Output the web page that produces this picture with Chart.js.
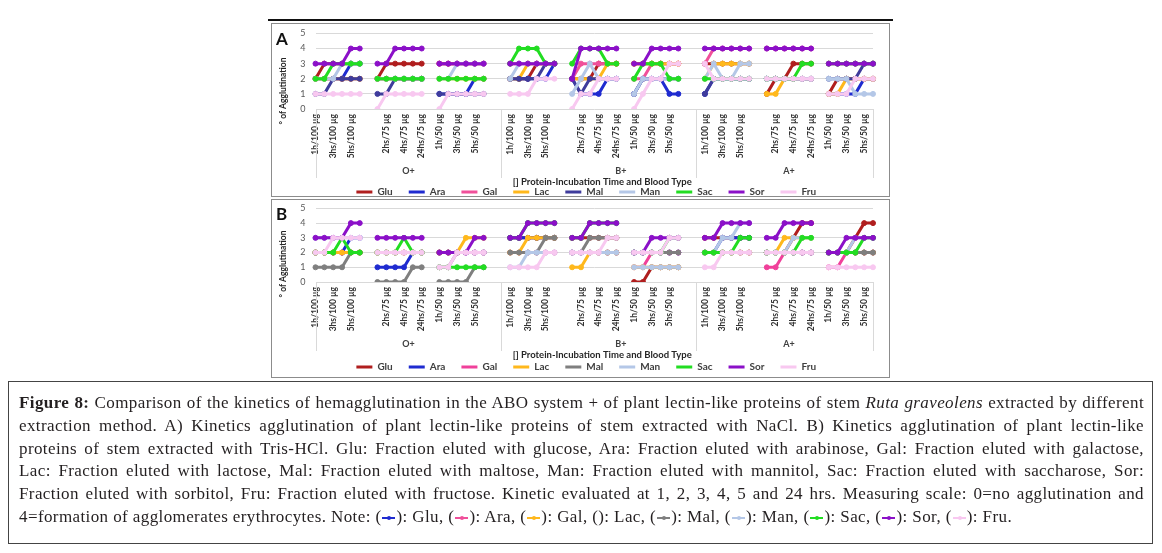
<!DOCTYPE html>
<html>
<head>
<meta charset="utf-8">
<script src="https://cdn.jsdelivr.net/npm/chart.js@4.4.0/dist/chart.umd.min.js"></script>
<style>
  body { margin: 0; background: #fff; width: 1162px; height: 553px; position: relative; overflow: hidden; font-family: Lato, sans-serif; }
  #topline { position: absolute; left: 268px; top: 19px; width: 625px; height: 2px; background: #111; }
  .panel { position: absolute; left: 271px; width: 619px; border: 1px solid #8c8c8c; box-sizing: border-box; }
  #pa { top: 23px; height: 174px; }
  #pb { top: 199px; height: 179px; }
  .wrap { position: absolute; left: 272px; width: 617px; height: 189px; }
  #wa { top: 17.6px; }
  #wb { top: 192.6px; }
  .letter { position: absolute; left: 276px; font: bold 17px Lato, sans-serif; color: #111; }
  #cap { position: absolute; left: 8px; top: 381px; width: 1145px; height: 163px; border: 1px solid #444; box-sizing: border-box;
         padding: 10px 8px 0 10px; font-family: "Liberation Serif", serif; font-size: 17px; letter-spacing: 0.4px; color: #231f20; }
  .ln { height: 22.8px; line-height: 22.8px; text-align: justify; text-align-last: justify; white-space: nowrap; }
  .ln.last { text-align-last: left; }
  .mk { display: inline-block; width: 13px; height: 2px; vertical-align: middle; position: relative; margin: 0 1px; }
  .mk::after { content: ''; position: absolute; left: 5px; top: -1.5px; width: 4px; height: 4px; border-radius: 50%; background: inherit; }
</style>
</head>
<body>
<div id="topline"></div>
<div class="panel" id="pa"></div>
<div class="panel" id="pb"></div>
<div class="wrap" id="wa"><canvas id="chartA"></canvas></div>
<div class="wrap" id="wb"><canvas id="chartB"></canvas></div>
<div class="letter" style="top:28px">A</div>
<div class="letter" style="top:203px">B</div>

<div id="cap">
  <div class="ln"><b>Figure 8:</b> Comparison of the kinetics of hemagglutination in the ABO system + of plant lectin-like proteins of stem <i>Ruta graveolens</i> extracted by different</div>
  <div class="ln">extraction method. A) Kinetics agglutination of plant lectin-like proteins of stem extracted with NaCl. B) Kinetics agglutination of plant lectin-like</div>
  <div class="ln">proteins of stem extracted with Tris-HCl. Glu: Fraction eluted with glucose, Ara: Fraction eluted with arabinose, Gal: Fraction eluted with galactose,</div>
  <div class="ln">Lac: Fraction eluted with lactose, Mal: Fraction eluted with maltose, Man: Fraction eluted with mannitol, Sac: Fraction eluted with saccharose, Sor:</div>
  <div class="ln">Fraction eluted with sorbitol, Fru: Fraction eluted with fructose. Kinetic evaluated at 1, 2, 3, 4, 5 and 24 hrs. Measuring scale: 0=no agglutination and</div>
  <div class="ln last">4=formation of agglomerates erythrocytes. Note: (<span class="mk" style="background:#1f2bd0"></span>): Glu, (<span class="mk" style="background:#f0509a"></span>): Ara, (<span class="mk" style="background:#ffb81c"></span>): Gal, (): Lac, (<span class="mk" style="background:#7f7f7f"></span>): Mal, (<span class="mk" style="background:#b4c7e7"></span>): Man, (<span class="mk" style="background:#22dd22"></span>): Sac, (<span class="mk" style="background:#8b10c8"></span>): Sor, (<span class="mk" style="background:#f8c8f0"></span>): Fru.</div>
</div>

<script>
// categories
const times = ['1h', '2hs', '3hs', '4hs', '5hs', '24hs'];
const doses = ['100 µg', '75 µg', '50 µg'];
const bloodTypes = ['O+', 'B+', 'A+'];
const seriesNames = ['Glu', 'Ara', 'Gal', 'Lac', 'Mal', 'Man', 'Sac', 'Sor', 'Fru'];

// A) NaCl extract -- 6 values per group: O+100, O+75, O+50, B+100, B+75, B+50, A+100, A+75, A+50
const aGlu = [2,3,3,3,3,3, 2,3,3,3,3,3, 3,3,3,3,3,3, 2,2,2,3,3,3, 2,2,2,3,3,3, 3,3,3,3,3,3, 3,3,3,3,3,3, 1,2,2,3,3,3, 1,2,2,2,2,2];
const aAra = [2,2,2,2,3,3, 2,2,2,2,2,2, 1,1,1,1,2,2, 2,2,2,2,2,3, 2,1,1,1,2,2, 1,2,2,2,1,1, 1,2,2,2,2,2, 2,2,2,2,2,2, 1,1,1,1,2,2];
const aGal = [2,2,2,2,2,2, 2,2,2,2,2,2, 3,3,3,3,3,3, 3,3,3,3,3,3, 2,3,3,3,3,3, 2,2,3,3,3,3, 3,4,4,4,4,4, 4,4,4,4,4,4, 3,3,3,3,3,3];
const aLac = [2,2,2,2,2,2, 2,2,2,2,2,2, 2,2,2,2,2,2, 2,2,3,3,3,3, 2,2,2,2,3,3, 3,3,3,3,3,3, 2,3,3,3,3,3, 1,1,2,2,2,2, 1,1,2,2,2,2];
const aMal = [1,1,2,2,2,2, 1,1,2,2,2,2, 1,1,1,1,1,1, 2,2,2,2,3,3, 2,1,2,2,2,2, 1,2,2,2,2,2, 1,2,2,2,2,2, 2,2,2,2,2,2, 2,2,2,2,3,3];
const aMan = [2,2,2,3,3,3, 2,2,2,2,2,2, 2,2,3,3,3,3, 2,3,3,3,3,3, 1,2,3,2,2,2, 1,2,2,2,2,2, 2,3,2,2,3,3, 2,2,2,2,2,2, 2,2,2,1,1,1];
const aSac = [2,2,3,3,3,3, 2,2,2,2,2,2, 2,2,2,2,2,2, 3,4,4,4,3,3, 3,4,4,4,3,3, 2,3,3,3,2,2, 2,2,2,2,2,2, 2,2,2,2,3,3, 3,3,3,3,3,3];
const aSor = [3,3,3,3,4,4, 3,3,4,4,4,4, 3,3,3,3,3,3, 3,3,3,3,3,3, 2,4,4,4,4,4, 3,3,4,4,4,4, 4,4,4,4,4,4, 4,4,4,4,4,4, 3,3,3,3,3,3];
const aFru = [1,1,1,1,1,1, 0,1,1,1,1,1, 0,1,1,1,1,1, 1,1,1,2,2,2, 0,1,1,2,2,2, 0,1,2,2,3,3, 3,2,2,2,2,2, 2,2,2,2,2,2, 1,1,1,2,2,2];

// B) Tris-HCl extract
const bGlu = [2,2,2,2,2,2, 2,2,2,2,2,2, 2,2,2,2,2,2, 3,3,3,3,3,3, 3,3,3,3,3,3, 0,0,1,1,1,1, 3,3,3,3,3,3, 2,2,2,3,4,4, 2,2,2,3,4,4];
const bAra = [2,2,2,2,3,3, 1,1,1,1,2,2, 2,2,2,2,2,2, 3,3,3,3,3,3, 2,2,2,2,2,2, 2,2,2,2,2,2, 2,2,3,3,3,3, 2,2,2,2,2,2, 2,2,2,2,2,2];
const bGal = [2,2,2,2,2,2, 2,2,2,2,2,2, 1,1,2,2,2,2, 2,2,2,2,2,2, 2,2,2,2,2,2, 1,1,2,2,2,2, 2,2,2,2,2,2, 1,1,2,2,2,2, 1,1,2,2,2,2];
const bLac = [2,2,2,2,2,2, 2,2,2,2,2,2, 2,2,2,3,3,3, 2,2,3,3,3,3, 1,1,2,2,2,2, 1,1,1,1,1,1, 2,2,2,2,2,2, 2,2,3,3,3,3, 2,2,2,2,2,2];
const bMal = [1,1,1,1,2,2, 0,0,0,0,1,1, 0,0,0,0,1,1, 2,2,2,2,3,3, 2,2,3,3,3,3, 2,2,2,2,2,2, 2,2,2,2,2,2, 2,2,2,2,2,2, 2,2,2,2,2,2];
const bMan = [3,3,3,3,3,3, 2,2,2,2,2,2, 1,1,2,2,2,2, 1,1,2,2,2,2, 2,2,2,2,2,2, 1,1,1,1,1,1, 2,2,3,3,4,4, 2,2,2,3,3,3, 2,2,2,3,3,3];
const bSac = [2,2,2,3,2,2, 2,2,2,3,2,2, 1,1,1,1,1,1, 3,3,4,4,4,4, 3,3,4,4,4,4, 2,2,2,2,3,3, 2,2,2,2,3,3, 2,2,2,2,3,3, 2,2,2,2,3,3];
const bSor = [3,3,3,3,4,4, 3,3,3,3,3,3, 2,2,2,2,3,3, 3,3,4,4,4,4, 3,3,4,4,4,4, 2,2,3,3,3,3, 3,3,4,4,4,4, 3,3,4,4,4,4, 2,2,3,3,3,3];
const bFru = [2,2,3,3,3,3, 2,2,2,2,2,2, 1,1,2,2,2,2, 1,1,1,1,2,2, 2,2,2,2,3,3, 2,2,2,2,3,3, 1,1,2,2,2,2, 2,2,2,2,2,2, 1,1,1,1,1,1];

const colorsA = ['#b01e1e', '#1f2bd0', '#f0509a', '#ffb81c', '#3f3c9c', '#b4c7e7', '#22dd22', '#8b10c8', '#f8c8f0'];
const colorsB = ['#b01e1e', '#1f2bd0', '#f0409a', '#ffb81c', '#7f7f7f', '#b4c7e7', '#22dd22', '#8b10c8', '#f8c8f0'];

// category axis with empty slots between dose groups and blood types
const labels = [];
const slot = [];
const groups = [];
bloodTypes.forEach((b, bi) => {
    const first = labels.length;
    doses.forEach((d, di) => {
        times.forEach(t => { slot.push(labels.length); labels.push(t + '/' + d); });
        if (di < doses.length - 1) labels.push('');
    });
    groups.push({ name: b, first: first, last: labels.length - 1 });
    if (bi < bloodTypes.length - 1) { labels.push(''); labels.push(''); }
});

function spread(values) {
    const out = labels.map(() => null);
    values.forEach((v, i) => { out[slot[i]] = v; });
    return out;
}

const blockAxis = {
    id: 'blockAxis',
    afterDraw(chart, args, opts) {
        const { ctx, chartArea: area, scales: { x } } = chart;
        ctx.save();
        ctx.strokeStyle = '#d9d9d9';
        ctx.lineWidth = 1;
        const cuts = [area.left, area.right];
        for (let g = 1; g < groups.length; g++) {
            cuts.push(x.getPixelForValue((groups[g - 1].last + groups[g].first) / 2 + 0.5));
        }
        cuts.forEach(px => {
            ctx.beginPath();
            ctx.moveTo(Math.round(px) + 0.5, area.bottom);
            ctx.lineTo(Math.round(px) + 0.5, area.bottom + 69);
            ctx.stroke();
        });
        ctx.fillStyle = '#404040';
        ctx.textAlign = 'center';
        ctx.textBaseline = 'middle';
        ctx.font = 'bold 9px Lato';
        groups.forEach((g, i) => {
            ctx.fillText(g.name, x.getPixelForValue(opts.groupAt[i]), area.bottom + 62);
        });
        ctx.font = 'bold 9.5px Lato';
        ctx.fillStyle = '#262626';
        ctx.fillText(opts.xTitle, (area.left + area.right) / 2 + 8, area.bottom + 73);
        ctx.translate(area.left - 32, area.bottom - 18);
        ctx.rotate(-Math.PI / 2);
        ctx.font = 'bold 8.5px Lato';
        ctx.fillText(opts.yTitle, 0, 0);
        ctx.restore();
    }
};

function makeChart(id, series, colors, xAxisHeight) {
    new Chart(document.getElementById(id), {
        type: 'line',
        data: {
            labels: labels,
            datasets: series.map((vals, i) => ({
                label: seriesNames[i],
                data: spread(vals),
                borderColor: colors[i],
                backgroundColor: colors[i],
                pointBackgroundColor: colors[i],
                pointBorderColor: colors[i],
                borderWidth: 3,
                pointRadius: 2.5,
                pointBorderWidth: 1,
                spanGaps: false,
                tension: 0,
                order: series.length - 1 - i
            }))
        },
        options: {
            responsive: true,
            maintainAspectRatio: false,
            animation: false,
            events: [],
            layout: { padding: { left: 27.5, right: 16, top: 0, bottom: 0 } },
            scales: {
                x: {
                    grid: { display: false, drawTicks: false },
                    border: { display: false },
                    afterFit: s => { s.height = xAxisHeight; },
                    ticks: {
                        autoSkip: false, minRotation: 90, maxRotation: 90, padding: 5,
                        color: '#333', font: { family: 'Lato', size: 8.5, weight: 'bold' },
                        callback: function (v, i) { return i % 2 === 0 ? labels[i] : ''; }
                    }
                },
                y: {
                    min: 0, max: 5,
                    afterFit: s => { s.width = 16; },
                    grid: { color: '#d9d9d9', drawTicks: false },
                    border: { display: false },
                    ticks: { stepSize: 1, autoSkip: false, padding: 10, color: '#595959', font: { family: 'Lato', size: 9 } }
                }
            },
            plugins: {
                tooltip: { enabled: false },
                legend: {
                    position: 'bottom',
                    labels: {
                        usePointStyle: true, pointStyle: 'line', pointStyleWidth: 16, padding: 16,
                        color: '#404040', font: { family: 'Lato', size: 10, weight: 'bold' },
                        sort: (a, b) => a.datasetIndex - b.datasetIndex,
                        generateLabels: chart => Chart.defaults.plugins.legend.labels.generateLabels(chart)
                            .map(item => Object.assign(item, { lineWidth: 3 }))
                    }
                },
                blockAxis: {
                    xTitle: '[] Protein-Incubation Time and Blood Type',
                    yTitle: '° of Agglutination',
                    groupAt: [10.5, 34.5, 53.5]
                }
            }
        },
        plugins: [blockAxis]
    });
}

makeChart('chartA', [aGlu, aAra, aGal, aLac, aMal, aMan, aSac, aSor, aFru], colorsA, 62);
makeChart('chartB', [bGlu, bAra, bGal, bLac, bMal, bMan, bSac, bSor, bFru], colorsB, 64);
</script>
</body>
</html>
